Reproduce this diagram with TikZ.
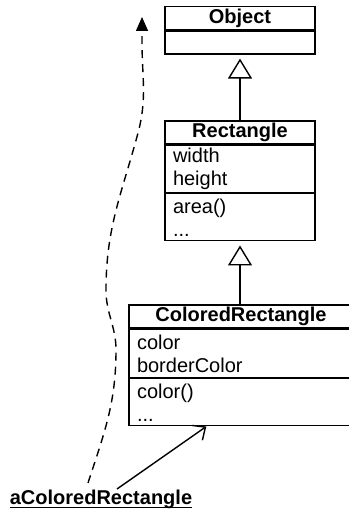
\documentclass[tikz,border=0pt]{standalone}
\usepackage{fontspec}
\setmainfont{Liberation Sans}
\usetikzlibrary{positioning,arrows.meta}
\begin{document}
\begin{tikzpicture}[x=0.5pt, y=0.5pt, line width=0.7pt, node distance=0pt,
        every node/.style={font=\fontsize{10}{11.5}\selectfont},
        classhead/.style={draw, minimum height=11.5pt, inner sep=0pt, font=\fontsize{10}{11.5}\selectfont\bfseries},
        classpart/.style={draw, inner xsep=4pt, inner ysep=0pt, align=left},
        inherit/.style={-{Triangle[open, length=10pt, width=12pt]}, shorten >=2pt},
        instlink/.style={-{Straight Barb[length=5pt, width=9pt]}},
        backlink/.style={dash pattern=on 4pt off 3pt, -{Triangle[length=7pt, width=6pt]}}]
    \useasboundingbox (0,0) rectangle (348,512);

    % class hierarchy
    \node (objhead) [classhead, minimum width=75pt] at (240,494) {Object};
    \node (objbody) [classpart, below=of objhead, text width=67pt, minimum height=11.5pt] {};

    \node (recthead) [classhead, minimum width=75pt] at (240,379.5) {Rectangle};
    \node (rectattr) [classpart, below=of recthead, text width=67pt, minimum height=23.5pt] {width\\height};
    \node (rectops) [classpart, below=of rectattr, text width=67pt, minimum height=23.5pt] {area()\\...};

    \node (colhead) [classhead, minimum width=112pt] at (241,195.5) {ColoredRectangle};
    \node (colattr) [classpart, below=of colhead, text width=104pt, minimum height=24pt] {color\\borderColor};
    \node (colops) [classpart, below=of colattr, text width=104pt, minimum height=23.5pt] {color()\\...};

    \draw[inherit] (recthead.north) -- (objbody.south);
    \draw[inherit] ([xshift=-0.5pt]colhead.north) -- (rectops.south);

    % instance
    \node (inst) [anchor=base] at (101,7) {\underline{\smash{\textbf{aColoredRectangle}}}};
    \coordinate (up) at (142,495);
    \draw[instlink] ([xshift=8pt, yshift=8pt]inst.base) -- ([xshift=39pt]colops.south west);
    \draw[backlink] ([xshift=-6.5pt, yshift=11pt]inst.base) to[out=72, in=-90] (116,162)
        to[out=90, in=-90] (106,222) to[out=90, in=-105] (138,379) to[out=75, in=-90] (142,470) -- (up);
\end{tikzpicture}
\end{document}
